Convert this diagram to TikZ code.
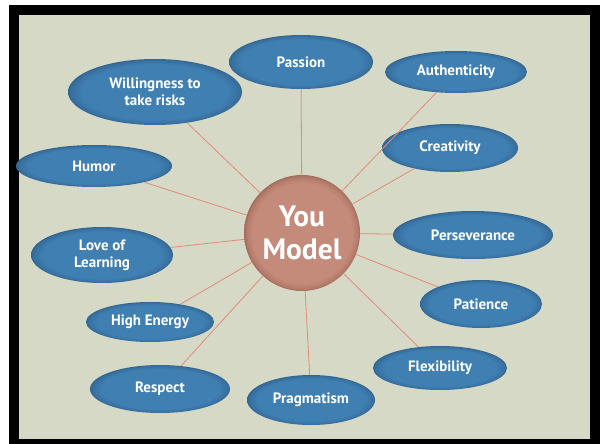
\documentclass[tikz,border=0pt]{standalone}
\usepackage{fontspec}
\setmainfont{PT Sans}
\usetikzlibrary{shapes.geometric}
\definecolor{pagebg}{HTML}{D6D9C6}
\definecolor{bluemain}{HTML}{3F7FB2}
\definecolor{blueedge}{HTML}{3870A0}
\definecolor{bluerim}{HTML}{32668F}
\definecolor{rosemain}{HTML}{C48A7A}
\definecolor{roseedge}{HTML}{B47B6B}
\definecolor{roserim}{HTML}{A26C5E}
\definecolor{spoke}{HTML}{E08C78}
\pgfdeclareradialshading{bluebubble}{\pgfpoint{0bp}{0bp}}{%
  color(0bp)=(bluemain); color(21bp)=(bluemain); color(24bp)=(blueedge);
  color(25bp)=(bluerim); color(50bp)=(bluerim)}
\pgfdeclareradialshading{rosebubble}{\pgfpoint{0bp}{0bp}}{%
  color(0bp)=(rosemain); color(21.5bp)=(rosemain); color(24bp)=(roseedge);
  color(25bp)=(roserim); color(50bp)=(roserim)}
\tikzset{
  trait/.style={ellipse, shading=bluebubble, inner sep=0pt, align=center,
    text=white, font=\fontsize{15}{17}\selectfont\bfseries},
  hub/.style={circle, shading=rosebubble, inner sep=0pt, align=center,
    text=white, font=\fontsize{29.5}{33}\selectfont\bfseries},
  conn/.style={draw=spoke, line width=0.8pt}
}
\begin{document}
\begin{tikzpicture}[x=1pt,y=-1pt]
  \useasboundingbox (0,0) rectangle (600,444);
  \fill[white] (0,0) rectangle (600,444);
  % frame and backdrop
  \fill[black] (9,5) rectangle (600,444);
  \fill[pagebg] (19,15) rectangle (590,439);

  % centre
  \node[hub, minimum size=116pt] (you) at (302,233) {You\\Model};

  % traits
  \node[trait, minimum width=144pt, minimum height=54pt] (passion) at (301,62) {Passion};
  \node[trait, minimum width=174pt, minimum height=66pt] (risks) at (155,92) {Willingness to\\take risks};
  \node[trait, minimum width=142pt, minimum height=42pt] (auth) at (456,72) {Authenticity};
  \node[trait, minimum width=136pt, minimum height=48pt] (creat) at (450,148) {Creativity};
  \node[trait, minimum width=156pt, minimum height=42pt] (humor) at (94,166) {Humor};
  \node[trait, minimum width=142pt, minimum height=56pt] (love) at (102,255) {Love of\\Learning};
  \node[trait, minimum width=160pt, minimum height=48pt] (persev) at (473,235) {Perseverance};
  \node[trait, minimum width=128pt, minimum height=40pt] (energy) at (150,322) {High Energy};
  \node[trait, minimum width=122pt, minimum height=48pt] (patience) at (481,304) {Patience};
  \node[trait, minimum width=134pt, minimum height=44pt] (flex) at (440,368) {Flexibility};
  \node[trait, minimum width=140pt, minimum height=48pt] (respect) at (160,389) {Respect};
  \node[trait, minimum width=128pt, minimum height=50pt] (prag) at (311,400) {Pragmatism};

  % spokes
  \foreach \t in {passion,risks,auth,creat,humor,love,persev,energy,patience,flex,respect,prag}
    \draw[conn] (you) -- (\t);
\end{tikzpicture}
\end{document}
